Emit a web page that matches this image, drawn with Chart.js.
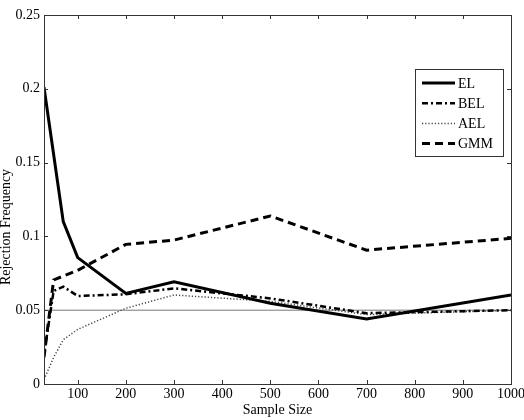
<!doctype html>
<html>
  <head>
    <meta charset="utf-8" />
    <title>Rejection Frequency</title>
    <script src="https://cdn.jsdelivr.net/npm/chart.js@4.4.0/dist/chart.umd.min.js"></script>
    <style>
      html, body { margin: 0; padding: 0; background: #fff; }
    </style>
  </head>
  <body>
    <canvas id="myChart" width="524" height="420"></canvas>
    <script>
      // values
      const elX = [30, 70, 100, 200, 300, 500, 700, 1000];
      const elY = [0.201, 0.110, 0.0856, 0.0614, 0.0693, 0.0547, 0.044, 0.0603];
      const belX = [30, 50, 70, 100, 200, 300, 500, 700, 1000];
      const belY = [0.02, 0.063, 0.066, 0.0596, 0.0608, 0.0648, 0.058, 0.048, 0.050];
      const aelX = [30, 50, 70, 100, 200, 300, 500, 700, 1000];
      const aelY = [0.003, 0.018, 0.030, 0.037, 0.0513, 0.0603, 0.056, 0.047, 0.050];
      const gmmX = [30, 50, 100, 200, 300, 500, 700, 1000];
      const gmmY = [0.018, 0.0705, 0.077, 0.0946, 0.0975, 0.1138, 0.0907, 0.0987];
      const refX = [30, 1000];
      const refY = [0.05, 0.05];
      const xTicks = [100, 200, 300, 400, 500, 600, 700, 800, 900, 1000];
      const yTicks = [0, 0.05, 0.1, 0.15, 0.2, 0.25];
      const yLabels = ['0', '0.05', '0.1', '0.15', '0.2', '0.25'];

      const pts = (xs, ys) => xs.map((x, i) => ({x: x, y: ys[i]}));
      const font = {family: '"Liberation Serif", "DejaVu Serif", serif', size: 14};

      const series = [
        {label: 'EL', data: pts(elX, elY), borderColor: '#000', borderWidth: 3, borderDash: []},
        {label: 'BEL', data: pts(belX, belY), borderColor: '#000', borderWidth: 2.5, borderDash: [6, 3, 2, 3]},
        {label: 'AEL', data: pts(aelX, aelY), borderColor: '#444', borderWidth: 1.5, borderDash: [1.2, 2]},
        {label: 'GMM', data: pts(gmmX, gmmY), borderColor: '#000', borderWidth: 3, borderDash: [8, 5]},
      ];

      const frame = {
        id: 'frame',
        afterDraw(chart) {
          const {ctx, chartArea: a, scales} = chart;
          ctx.save();
          ctx.strokeStyle = '#333';
          ctx.lineWidth = 1;
          ctx.strokeRect(a.left + 0.5, a.top + 0.5, a.right - a.left, a.bottom - a.top);
          ctx.beginPath();
          xTicks.forEach(v => {
            const px = Math.round(scales.x.getPixelForValue(v)) + 0.5;
            ctx.moveTo(px, a.bottom); ctx.lineTo(px, a.bottom - 4);
            ctx.moveTo(px, a.top); ctx.lineTo(px, a.top + 4);
          });
          yTicks.forEach(v => {
            const py = Math.round(scales.y.getPixelForValue(v)) + 0.5;
            ctx.moveTo(a.left, py); ctx.lineTo(a.left + 4, py);
            ctx.moveTo(a.right, py); ctx.lineTo(a.right - 4, py);
          });
          ctx.stroke();

          // y title
          ctx.fillStyle = '#000';
          ctx.font = font.size + 'px ' + font.family;
          ctx.textAlign = 'center';
          ctx.textBaseline = 'middle';
          ctx.translate(6, 227);
          ctx.rotate(-Math.PI / 2);
          ctx.fillText('Rejection Frequency', 0, 0);
          ctx.restore();

          // legend box
          ctx.save();
          ctx.fillStyle = '#fff';
          ctx.fillRect(415, 69, 88, 87);
          ctx.strokeStyle = '#333';
          ctx.lineWidth = 1;
          ctx.strokeRect(415.5, 69.5, 88, 87);
          ctx.font = font.size + 'px ' + font.family;
          ctx.textBaseline = 'middle';
          ctx.textAlign = 'left';
          series.forEach((s, i) => {
            const y = 83 + i * 20.2;
            ctx.beginPath();
            ctx.strokeStyle = s.borderColor;
            ctx.lineWidth = s.borderWidth;
            ctx.setLineDash(s.borderDash);
            ctx.moveTo(422, y); ctx.lineTo(455, y);
            ctx.stroke();
            ctx.setLineDash([]);
            ctx.fillStyle = '#000';
            ctx.fillText(s.label, 458, y + 1);
          });
          ctx.restore();
        }
      };

      const datasets = series.map((s, i) => Object.assign({}, s, {
        pointRadius: 0, tension: 0, fill: false, order: i + 1
      }));
      datasets.push({
        label: 'ref', data: pts(refX, refY), borderColor: '#777', borderWidth: 1,
        pointRadius: 0, fill: false, order: 10
      });

      const myChart = new Chart(document.getElementById('myChart'), {
        type: 'line',
        data: {datasets: datasets},
        plugins: [frame],
        options: {
          responsive: false,
          animation: false,
          layout: {padding: {top: 15, right: 13, left: 0, bottom: 0}},
          plugins: {legend: {display: false}, tooltip: {enabled: false}},
          scales: {
            x: {
              type: 'linear', min: 30, max: 1000,
              grid: {display: false, drawTicks: false, tickLength: 0}, border: {display: false},
              afterBuildTicks: s => { s.ticks = xTicks.map(v => ({value: v})); },
              afterFit: s => { s.height = 36; s.paddingLeft = 0; s.paddingRight = 0; },
              ticks: {color: '#000', font: font, padding: 2, maxRotation: 0, autoSkip: false,
                callback: (v) => String(v)},
              title: {display: true, text: 'Sample Size', color: '#000', font: font, padding: {top: 0, bottom: 1}}
            },
            y: {
              type: 'linear', min: 0, max: 0.25,
              grid: {display: false, drawTicks: false, tickLength: 0}, border: {display: false},
              afterBuildTicks: s => { s.ticks = yTicks.map(v => ({value: v})); },
              afterFit: s => { s.width = 44; s.paddingTop = 0; s.paddingBottom = 0; },
              ticks: {color: '#000', font: font, padding: 4, autoSkip: false,
                callback: (v) => yLabels[yTicks.indexOf(v)] ?? ''}
            }
          }
        }
      });
    </script>
  </body>
</html>
